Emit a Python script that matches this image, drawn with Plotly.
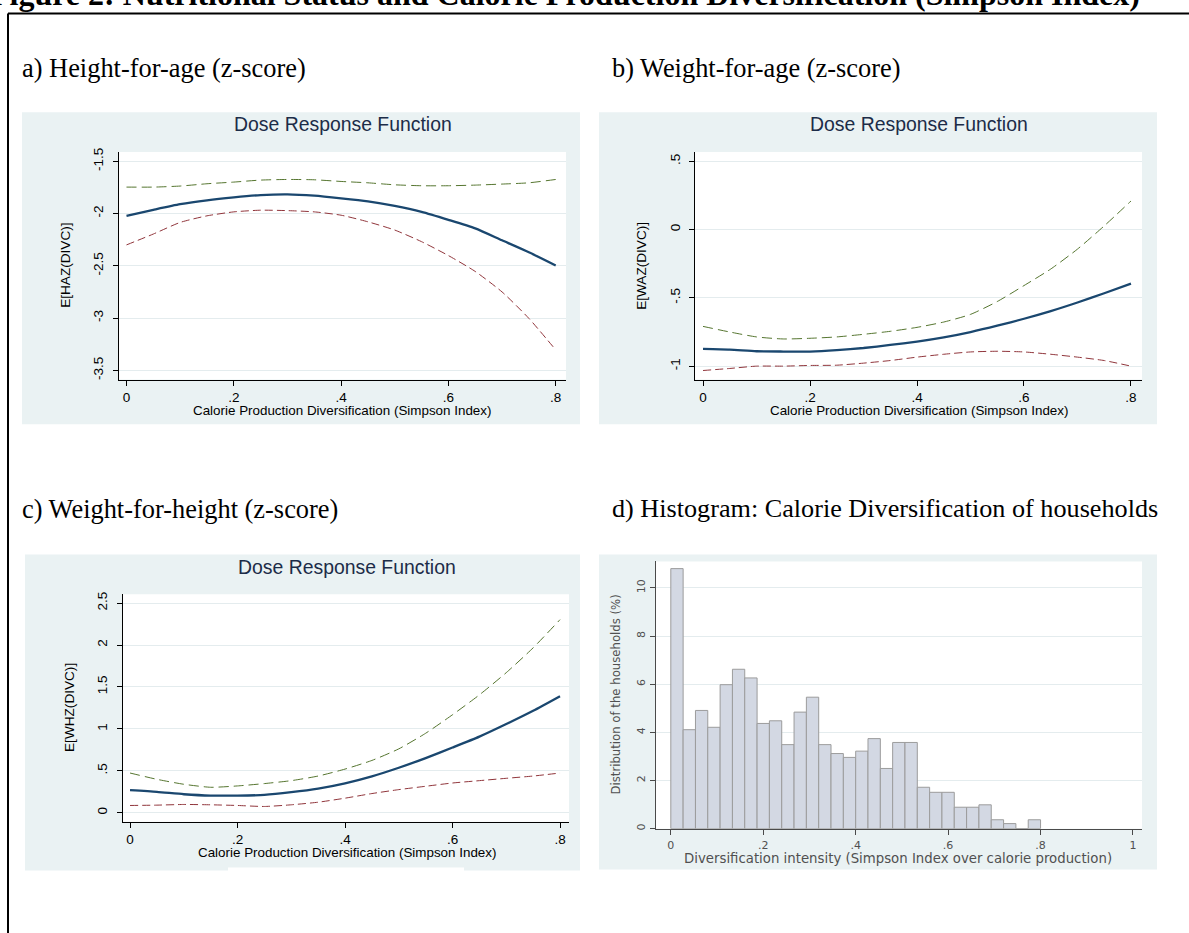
import plotly.graph_objects as go

W, H = 1189, 933

# ---------------- data ----------------
x_grid = [0.0, 0.05, 0.1, 0.15, 0.2, 0.25, 0.3, 0.35, 0.4, 0.45, 0.5, 0.55, 0.6, 0.65, 0.7, 0.75, 0.8]

haz_mean = [-2.022, -1.965, -1.911, -1.873, -1.845, -1.823, -1.816, -1.829, -1.854, -1.883, -1.927, -1.984, -2.060, -2.142, -2.256, -2.370, -2.497]
haz_upper = [-1.747, -1.747, -1.737, -1.715, -1.699, -1.680, -1.674, -1.677, -1.693, -1.706, -1.725, -1.734, -1.734, -1.728, -1.718, -1.706, -1.674]
haz_lower = [-2.300, -2.196, -2.085, -2.022, -1.984, -1.968, -1.972, -1.984, -2.016, -2.079, -2.158, -2.269, -2.402, -2.554, -2.750, -3.003, -3.304]

waz_mean = [-0.874, -0.879, -0.891, -0.893, -0.893, -0.883, -0.867, -0.845, -0.820, -0.789, -0.750, -0.704, -0.653, -0.597, -0.534, -0.466, -0.396]
waz_upper = [-0.709, -0.750, -0.786, -0.801, -0.796, -0.786, -0.767, -0.745, -0.716, -0.677, -0.621, -0.527, -0.410, -0.289, -0.143, 0.027, 0.209]
waz_lower = [-1.032, -1.017, -1.000, -1.000, -0.995, -0.993, -0.978, -0.959, -0.934, -0.913, -0.896, -0.891, -0.896, -0.913, -0.934, -0.959, -1.000]

whz_mean = [0.269, 0.249, 0.221, 0.205, 0.205, 0.213, 0.245, 0.288, 0.351, 0.434, 0.537, 0.652, 0.778, 0.908, 1.058, 1.216, 1.390]
whz_upper = [0.474, 0.399, 0.340, 0.304, 0.320, 0.348, 0.383, 0.438, 0.521, 0.624, 0.762, 0.948, 1.169, 1.406, 1.671, 1.967, 2.303]
whz_lower = [0.087, 0.091, 0.099, 0.095, 0.087, 0.075, 0.095, 0.126, 0.174, 0.229, 0.276, 0.316, 0.355, 0.383, 0.411, 0.438, 0.474]

hist_pct = [10.80, 4.11, 4.91, 4.21, 5.98, 6.62, 6.26, 4.37, 4.48, 3.49,
            4.84, 5.46, 3.49, 3.12, 2.96, 3.22, 3.74, 2.50, 3.58, 3.58,
            1.72, 1.51, 1.51, 0.89, 0.89, 0.99, 0.37, 0.21, 0.00, 0.37]
hist_lo, hist_hi = 0.0, 0.8

dose_x_ticks = [0, 0.2, 0.4, 0.6, 0.8]
dose_x_labels = ["0", ".2", ".4", ".6", ".8"]
haz_ticks = [-3.5, -3, -2.5, -2, -1.5]
haz_labels = ["-3.5", "-3", "-2.5", "-2", "-1.5"]
waz_ticks = [-1, -0.5, 0, 0.5]
waz_labels = ["-1", "-.5", "0", ".5"]
whz_ticks = [0, 0.5, 1, 1.5, 2, 2.5]
whz_labels = ["0", ".5", "1", "1.5", "2", "2.5"]
hist_x_ticks = [0, 0.2, 0.4, 0.6, 0.8, 1]
hist_x_labels = ["0", ".2", ".4", ".6", ".8", "1"]
hist_y_ticks = [0, 2, 4, 6, 8, 10]
hist_y_labels = ["0", "2", "4", "6", "8", "10"]

fig_title = "Figure 2: Nutritional Status and Calorie Production Diversification (Simpson Index)"
panel_labels = ["a) Height-for-age (z-score)", "b) Weight-for-age (z-score)",
                "c) Weight-for-height (z-score)", "d) Histogram: Calorie Diversification of households"]
dose_title = "Dose Response Function"
dose_xtitle = "Calorie Production Diversification (Simpson Index)"
ytitles = ["E[HAZ(DIVC)]", "E[WAZ(DIVC)]", "E[WHZ(DIVC)]"]
hist_xtitle = "Diversification intensity (Simpson Index over calorie production)"
hist_ytitle = "Distribution of the households (%)"

# ---------------- style ----------------
BG = "#eaf2f3"
GRID = "#e4ecee"
NAVY = "#1a476f"
GREEN = "#55752f"
MAROON = "#90353b"
SANS = "Liberation Sans, Arial, sans-serif"
SERIF = "Liberation Serif, Times New Roman, serif"
HSANS = "DejaVu Sans, Verdana, sans-serif"
HGRAY = "#505050"


def fx(px):
    return px / W


def fy(py):
    return 1 - py / H


# panel layout in pixels: (bg box), (plot box), x-range, y-range
panels = [
    dict(bg=(22, 109, 580, 423), plot=(118.5, 149, 566, 378), xr=(-0.0149, 0.8192), yr=(-3.5884, -1.4116)),
    dict(bg=(599, 109, 1157, 423), plot=(695, 149, 1142, 378), xr=(-0.015, 0.8206), yr=(-1.0983, 0.5677)),
    dict(bg=(25, 554, 580, 872), plot=(122.5, 594, 569, 823), xr=(-0.014, 0.8167), yr=(-0.1066, 2.6066)),
    dict(bg=(599, 554, 1157, 871), plot=(655.6, 561, 1142, 830), xr=(-0.0329, 1.0195), yr=(0, 11.1)),
]

fig = go.Figure()

shapes = []
for p in panels:
    x0, y0, x1, y1 = p["bg"]
    shapes.append(dict(type="rect", xref="paper", yref="paper", x0=fx(x0), x1=fx(x1), y0=fy(y1), y1=fy(y0),
                       fillcolor=BG, line=dict(width=0), layer="below"))
    x0, y0, x1, y1 = p["plot"]
    shapes.append(dict(type="rect", xref="paper", yref="paper", x0=fx(x0), x1=fx(x1), y0=fy(y1), y1=fy(y0),
                       fillcolor="white", line=dict(width=0), layer="below"))
# small white strip at the bottom of panel c
shapes.append(dict(type="rect", xref="paper", yref="paper", x0=fx(228), x1=fx(464), y0=fy(873), y1=fy(869),
                   fillcolor="white", line=dict(width=0), layer="below"))
# page frame
shapes.append(dict(type="line", xref="paper", yref="paper", x0=fx(8), x1=fx(1195), y0=fy(9.5), y1=fy(9.5),
                   line=dict(color="black", width=2)))
shapes.append(dict(type="line", xref="paper", yref="paper", x0=fx(8), x1=fx(8), y0=fy(9.5), y1=fy(940),
                   line=dict(color="black", width=2)))

series = [(haz_mean, haz_upper, haz_lower), (waz_mean, waz_upper, waz_lower), (whz_mean, whz_upper, whz_lower)]
for i, (m, u, l) in enumerate(series):
    ax = "" if i == 0 else str(i + 1)
    fig.add_trace(go.Scatter(x=x_grid, y=u, mode="lines", xaxis="x" + ax, yaxis="y" + ax,
                             line=dict(color=GREEN, width=1, dash="10px,5px", shape="spline", smoothing=0.6),
                             showlegend=False, hoverinfo="skip"))
    fig.add_trace(go.Scatter(x=x_grid, y=l, mode="lines", xaxis="x" + ax, yaxis="y" + ax,
                             line=dict(color=MAROON, width=1, dash="8px,4px", shape="spline", smoothing=0.6),
                             showlegend=False, hoverinfo="skip"))
    fig.add_trace(go.Scatter(x=x_grid, y=m, mode="lines", xaxis="x" + ax, yaxis="y" + ax,
                             line=dict(color=NAVY, width=2.3, shape="spline", smoothing=0.6),
                             showlegend=False, hoverinfo="skip"))

bw = (hist_hi - hist_lo) / len(hist_pct)
bin_left = [hist_lo + k * bw for k in range(len(hist_pct))]
fig.add_trace(go.Bar(x=bin_left, y=hist_pct, width=bw, offset=0, xaxis="x4", yaxis="y4",
                     marker=dict(color="#d3d8e3", line=dict(color="#9c9c9c", width=1)),
                     showlegend=False, hoverinfo="skip"))

layout = dict(
    width=W, height=H, margin=dict(l=0, r=0, t=0, b=0),
    paper_bgcolor="white", plot_bgcolor="rgba(0,0,0,0)",
    shapes=shapes, bargap=0,
)

dose_yt = [(haz_ticks, haz_labels), (waz_ticks, waz_labels), (whz_ticks, whz_labels)]
for i, p in enumerate(panels):
    ax = "" if i == 0 else str(i + 1)
    x0, y0, x1, y1 = p["plot"]
    hist = i == 3
    lc = "#4a4a4a" if hist else "black"
    tf = dict(family=HSANS, size=11, color=HGRAY) if hist else dict(family=SANS, size=13.5, color="black")
    xt, xl = (hist_x_ticks, hist_x_labels) if hist else (dose_x_ticks, dose_x_labels)
    yt, yl = (hist_y_ticks, hist_y_labels) if hist else dose_yt[i]
    layout["xaxis" + ax] = dict(domain=[fx(x0), fx(x1)], range=list(p["xr"]), anchor="y" + ax,
                                showline=True, linecolor=lc, linewidth=1, ticks="outside", ticklen=5,
                                tickcolor=lc, tickwidth=1, tickvals=xt, ticktext=xl, tickfont=tf,
                                ticklabelstandoff=(1 if hist else 0),
                                showgrid=False, zeroline=False, fixedrange=True)
    layout["yaxis" + ax] = dict(domain=[fy(y1), fy(y0)], range=list(p["yr"]), anchor="x" + ax,
                                showline=True, linecolor=lc, linewidth=1, ticks="outside", ticklen=5,
                                tickcolor=lc, tickwidth=1, tickvals=yt, ticktext=yl, tickfont=tf,
                                ticklabelstandoff=(0 if hist else 4),
                                tickangle=-90, showgrid=True, gridcolor=GRID, gridwidth=1,
                                zeroline=False, fixedrange=True)

ann = []


def add_text(text, px, py, size, family, color="black", xanchor="center", angle=0, bold=False):
    ann.append(dict(text=text, x=fx(px), y=fy(py), xref="paper", yref="paper", showarrow=False,
                    xanchor=xanchor, yanchor="middle", textangle=angle,
                    font=dict(family=family, size=size, color=color, weight="bold" if bold else "normal")))


add_text(fig_title, -12, -10, 32, SERIF, xanchor="left", bold=True)
add_text(panel_labels[0], 19.5, 64, 26.4, SERIF, xanchor="left")
add_text(panel_labels[1], 609.5, 64, 26.4, SERIF, xanchor="left")
add_text(panel_labels[2], 19.5, 508, 26.4, SERIF, xanchor="left")
add_text(panel_labels[3], 609.5, 508, 26.2, SERIF, xanchor="left")

for (cx, cy) in [(342.5, 121), (919, 121), (347, 567)]:
    add_text(dose_title, cx, cy, 19.4, SANS, color="#1c2c48")
for (cx, cy) in [(342, 409), (918.5, 409), (347, 854)]:
    add_text(dose_xtitle, cx, cy, 13.4, SANS)
for t, (cx, cy) in zip(ytitles, [(66, 263.5), (642, 263.5), (70, 708.5)]):
    add_text(t, cx, cy, 13.6, SANS, angle=-90)
add_text(hist_xtitle, 898, 860, 13.3, HSANS, color=HGRAY)
add_text(hist_ytitle, 616, 695, 11.7, HSANS, color=HGRAY, angle=-90)

layout["annotations"] = ann
fig.update_layout(**layout)

pin_js = ("document.documentElement.style.margin='0';document.body.style.margin='0';"
          "document.body.style.padding='0';document.body.style.overflow='hidden';"
          "var gd=document.getElementById('{plot_id}');gd.style.position='absolute';"
          "gd.style.left='0px';gd.style.top='0px';")
fig.write_html("out.html", post_script=pin_js, config={"displayModeBar": False, "staticPlot": True})
